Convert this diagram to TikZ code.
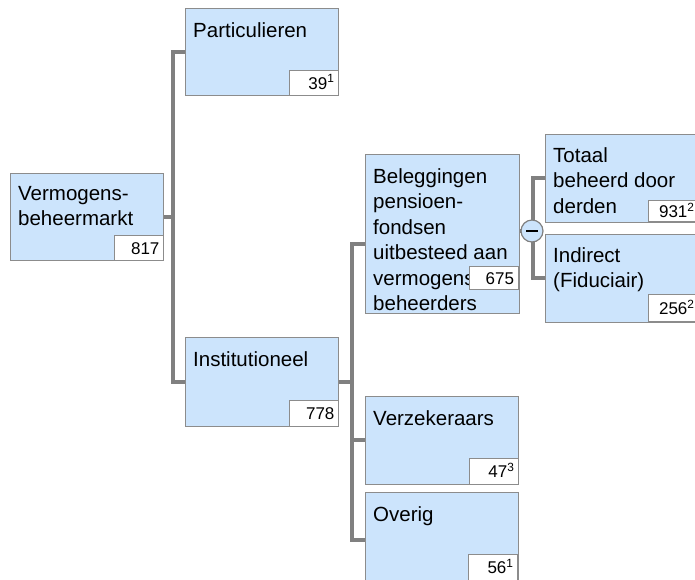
\documentclass[tikz,border=0pt]{standalone}
\usepackage{fontspec}
\setmainfont{Liberation Sans}
\definecolor{blokblauw}{RGB}{204,228,252}
\definecolor{lijngrijs}{RGB}{128,128,128}
\definecolor{randgrijs}{RGB}{140,140,140}

\begin{document}
\begin{tikzpicture}[x=1pt,y=-1pt,
    blok/.style={draw=randgrijs, fill=blokblauw, line width=0.9pt, anchor=north west,
        inner sep=0pt, minimum width=153pt, minimum height=87pt},
    tekst/.style={anchor=north west, align=left, inner sep=0pt,
        font=\fontsize{20.5}{25.5}\selectfont},
    waarde/.style={draw=randgrijs, fill=white, line width=0.9pt, anchor=south east,
        inner xsep=4pt, inner ysep=0pt, text width=41pt, text height=12.5pt, text depth=0pt,
        minimum height=25pt, align=right, font=\fontsize{17}{17}\selectfont},
    lijn/.style={draw=lijngrijs, line width=4pt},
    knop/.style={circle, draw=lijngrijs, fill=blokblauw, line width=1.2pt,
        minimum size=22pt, inner sep=0pt}]
    % \draw[help lines] (0,0) grid[step=50] (695,579);
    \useasboundingbox (0,0) rectangle (695,579);

    % blokken
    \node[blok] (markt) at (10,173) {};
    \node[blok] (part) at (185,8) {};
    \node[blok, minimum height=89pt] (inst) at (185,337) {};
    \node[blok, minimum width=154pt, minimum height=159pt] (bel) at (365,154) {};
    \node[blok, minimum width=156pt, minimum height=88pt] (totaal) at (545,134) {};
    \node[blok, minimum width=156pt, minimum height=88pt] (indirect) at (545,234) {};
    \node[blok, minimum height=88pt] (verz) at (365,396) {};
    \node[blok, minimum height=95pt] (overig) at (365,492) {};

    % verbindingen
    \coordinate (tak1) at ([xshift=9pt]markt.east);
    \coordinate (tak2) at ([xshift=13pt]inst.east);
    \coordinate (belin) at ([yshift=-10pt]bel.west);
    \coordinate (tak3) at (533,231);
    \draw[lijn] (markt.east) -- (tak1);
    \draw[lijn] (part.west) -| (tak1) |- (inst.west);
    \draw[lijn] (inst.east) -- (tak2);
    \draw[lijn] (belin) -| (tak2) |- (overig.west);
    \draw[lijn] (tak2) |- (verz.west);
    \draw[lijn] (totaal.west) -| (tak3) |- (indirect.west);
    \draw[lijn] (bel.east |- tak3) -- (tak3);
    \node[knop] (min) at (532,231) {};
    \draw[line width=2pt] ([xshift=-6pt]min.center) -- ([xshift=6pt]min.center);

    % teksten
    \node[tekst] (markttekst) at ([shift={(8,13)}]markt.north west) {Vermogens-\\beheermarkt};
    \node[tekst] (parttekst) at ([shift={(8,14)}]part.north west) {Particulieren};
    \node[tekst] (insttekst) at ([shift={(8,14)}]inst.north west) {Institutioneel};
    \node[tekst] (beltekst) at ([shift={(8,14)}]bel.north west)
        {Beleggingen\\pensioen-\\fondsen\\uitbesteed aan\\vermogens-\\beheerders};
    \node[tekst] (totaaltekst) at ([shift={(8,13)}]totaal.north west) {Totaal\\beheerd door\\derden};
    \node[tekst] (indirecttekst) at ([shift={(8,13)}]indirect.north west) {Indirect\\(Fiduciair)};
    \node[tekst] (verztekst) at ([shift={(8,14)}]verz.north west) {Verzekeraars};
    \node[tekst] (overigtekst) at ([shift={(8,14)}]overig.north west) {Overig};

    % waarden
    \node[waarde] (marktwaarde) at (markt.south east) {817};
    \node[waarde] (partwaarde) at (part.south east) {39\textsuperscript{1}};
    \node[waarde, minimum height=26pt] (instwaarde) at (inst.south east) {778};
    \node[waarde, minimum height=23pt] (belwaarde) at (518.5,290) {675};
    \node[waarde, minimum height=21pt, text width=42pt] (totaalwaarde) at (699,222) {931\textsuperscript{2}};
    \node[waarde, minimum height=27pt, text width=42pt] (indirectwaarde) at (699,322) {256\textsuperscript{2}};
    \node[waarde, minimum height=26pt] (verzwaarde) at (verz.south east) {47\textsuperscript{3}};
    \node[waarde, anchor=north east, minimum height=26pt] (overigwaarde) at (518,554) {56\textsuperscript{1}};
\end{tikzpicture}
\end{document}
